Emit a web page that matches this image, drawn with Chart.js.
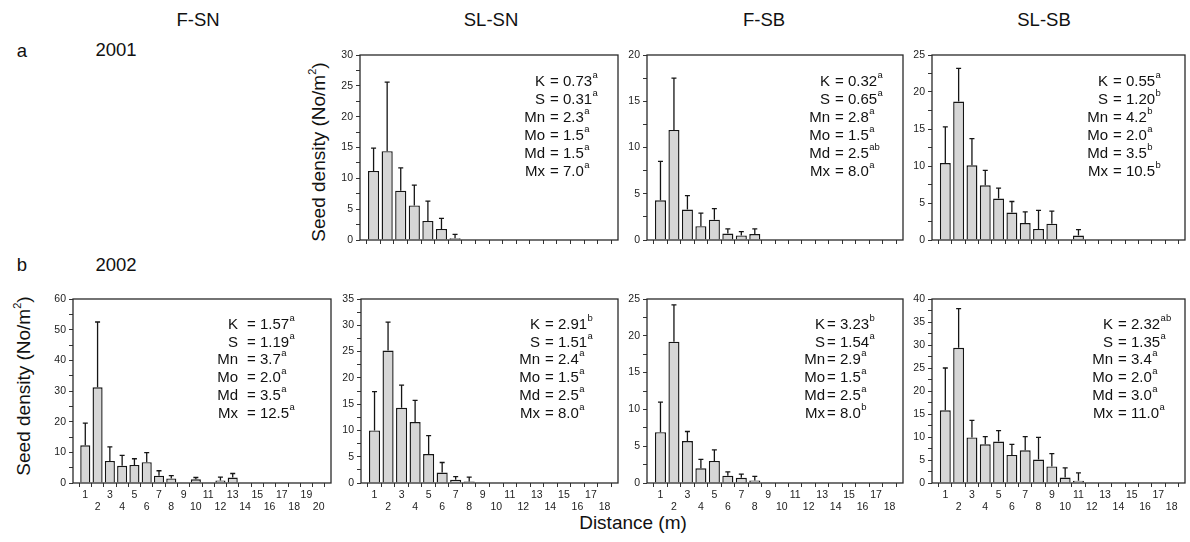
<!DOCTYPE html>
<html>
<head>
<meta charset="utf-8">
<script src="https://cdn.jsdelivr.net/npm/chart.js@4.4.1/dist/chart.umd.min.js"></script>
<style>
    body { margin: 0; background: #fff; width: 1190px; height: 542px; position: relative; overflow: hidden;
           font-family: "Liberation Sans", Arial, sans-serif; color: #111; }
    canvas { position: absolute; }
    .txt { position: absolute; white-space: nowrap; line-height: 1; transform: translate(-50%, -50%); }
    .head { font-size: 18.5px; }
    .ytitle { position: absolute; white-space: nowrap; line-height: 1; font-size: 19px;
              transform: translate(-50%, -50%) rotate(-90deg); }
    .ytitle sup { font-size: 11px; vertical-align: 9px; line-height: 0; }
</style>
</head>
<body>
<div class="txt head" style="left:198px; top:20px;">F-SN</div>
<div class="txt head" style="left:491px; top:20px;">SL-SN</div>
<div class="txt head" style="left:764px; top:20px;">F-SB</div>
<div class="txt head" style="left:1044px; top:20px;">SL-SB</div>
<div class="txt head" style="left:22px; top:51px;">a</div>
<div class="txt head" style="left:116px; top:50px;">2001</div>
<div class="txt head" style="left:22px; top:265px;">b</div>
<div class="txt head" style="left:116px; top:265px;">2002</div>
<div class="ytitle" style="left:318px; top:152px;">Seed density (No/m<sup>2</sup>)</div>
<div class="ytitle" style="left:23px; top:386px;">Seed density (No/m<sup>2</sup>)</div>
<div class="txt" style="left:633px; top:522px; font-size:19px;">Distance (m)</div>

<script>
// distance classes (m)
const dist18 = [1, 2, 3, 4, 5, 6, 7, 8, 9, 10, 11, 12, 13, 14, 15, 16, 17, 18];
const dist20 = [1, 2, 3, 4, 5, 6, 7, 8, 9, 10, 11, 12, 13, 14, 15, 16, 17, 18, 19, 20];
const statNames = ["K", "S", "Mn", "Mo", "Md", "Mx"];

// 2001, SL-SN
const dens01SLSN = [11.2, 14.4, 8.0, 5.6, 3.1, 1.8, 0.3, 0, 0, 0, 0, 0, 0, 0, 0, 0, 0, 0];
const se01SLSN = [3.7, 11.2, 3.7, 3.3, 3.2, 1.7, 0.6, 0, 0, 0, 0, 0, 0, 0, 0, 0, 0, 0];
const stat01SLSN = ["0.73", "0.31", "2.3", "1.5", "1.5", "7.0"];
const sig01SLSN = ["a", "a", "a", "a", "a", "a"];

// 2001, F-SB
const dens01FSB = [4.3, 11.9, 3.3, 1.5, 2.2, 0.7, 0.5, 0.65, 0, 0, 0, 0, 0, 0, 0, 0, 0, 0];
const se01FSB = [4.2, 5.6, 1.5, 1.4, 1.2, 0.5, 0.4, 0.55, 0, 0, 0, 0, 0, 0, 0, 0, 0, 0];
const stat01FSB = ["0.32", "0.65", "2.8", "1.5", "2.5", "8.0"];
const sig01FSB = ["a", "a", "a", "a", "ab", "a"];

// 2001, SL-SB
const dens01SLSB = [10.4, 18.7, 10.1, 7.4, 5.6, 3.7, 2.3, 1.5, 2.2, 0, 0.6, 0, 0, 0, 0, 0, 0, 0];
const se01SLSB = [4.9, 4.5, 3.6, 2.0, 1.4, 1.5, 1.5, 2.5, 1.7, 0, 0.8, 0, 0, 0, 0, 0, 0, 0];
const stat01SLSB = ["0.55", "1.20", "4.2", "2.0", "3.5", "10.5"];
const sig01SLSB = ["a", "b", "b", "a", "b", "b"];

// 2002, F-SN
const dens02FSN = [12.3, 31.2, 7.2, 5.6, 5.9, 6.8, 2.4, 1.5, 0, 1.2, 0, 0.8, 1.8, 0, 0, 0, 0, 0, 0, 0];
const se02FSN = [7.2, 21.3, 4.6, 3.4, 2.0, 3.1, 1.6, 0.9, 0, 0.6, 0, 1.1, 1.3, 0, 0, 0, 0, 0, 0, 0];
const stat02FSN = ["1.57", "1.19", "3.7", "2.0", "3.5", "12.5"];
const sig02FSN = ["a", "a", "a", "a", "a", "a"];

// 2002, SL-SN
const dens02SLSN = [10.0, 25.2, 14.3, 11.6, 5.5, 2.0, 0.6, 0.3, 0, 0, 0, 0, 0, 0, 0, 0, 0, 0];
const se02SLSN = [7.4, 5.4, 4.3, 4.1, 3.5, 1.9, 0.6, 0.8, 0, 0, 0, 0, 0, 0, 0, 0, 0, 0];
const stat02SLSN = ["2.91", "1.51", "2.4", "1.5", "2.5", "8.0"];
const sig02SLSN = ["b", "a", "a", "a", "a", "a"];

// 2002, F-SB
const dens02FSB = [6.9, 19.2, 5.7, 2.0, 3.0, 1.0, 0.7, 0.35, 0, 0, 0, 0, 0, 0, 0, 0, 0, 0];
const se02FSB = [4.1, 5.0, 1.3, 1.2, 1.5, 0.5, 0.5, 0.55, 0, 0, 0, 0, 0, 0, 0, 0, 0, 0];
const stat02FSB = ["3.23", "1.54", "2.9", "1.5", "2.5", "8.0"];
const sig02FSB = ["b", "a", "a", "a", "a", "b"];

// 2002, SL-SB
const dens02SLSB = [15.8, 29.4, 9.9, 8.4, 9.0, 6.1, 7.1, 5.1, 3.6, 1.2, 0.5, 0, 0, 0, 0, 0, 0, 0];
const se02SLSB = [9.2, 8.5, 3.7, 1.7, 2.4, 2.3, 3.0, 4.8, 2.8, 2.1, 1.7, 0, 0, 0, 0, 0, 0, 0];
const stat02SLSB = ["2.32", "1.35", "3.4", "2.0", "3.0", "11.0"];
const sig02SLSB = ["ab", "a", "a", "a", "a", "a"];

// plot rectangles (px) and where the "=" column of the stats block sits
const panels = [
    { dist: dist18, dens: dens01SLSN, se: se01SLSN, stat: stat01SLSN, sig: sig01SLSN, yMax: 30, yStep: 5,
      left: 360, top: 55, right: 618, bottom: 240, xLabels: false, eqX: 190, lineY: 27, gap: 5 },
    { dist: dist18, dens: dens01FSB, se: se01FSB, stat: stat01FSB, sig: sig01FSB, yMax: 20, yStep: 5,
      left: 647, top: 55, right: 903, bottom: 240, xLabels: false, eqX: 188, lineY: 27, gap: 5 },
    { dist: dist18, dens: dens01SLSB, se: se01SLSB, stat: stat01SLSB, sig: sig01SLSB, yMax: 25, yStep: 5,
      left: 932, top: 55, right: 1185, bottom: 240, xLabels: false, eqX: 181, lineY: 27, gap: 5 },
    { dist: dist20, dens: dens02FSN, se: se02FSN, stat: stat02FSN, sig: sig02FSN, yMax: 60, yStep: 10,
      left: 73, top: 299, right: 331, bottom: 483, xLabels: true, eqX: 174, lineY: 25.5, gap: 9 },
    { dist: dist18, dens: dens02SLSN, se: se02SLSN, stat: stat02SLSN, sig: sig02SLSN, yMax: 35, yStep: 5,
      left: 361, top: 299, right: 618, bottom: 483, xLabels: true, eqX: 184, lineY: 25.5, gap: 5 },
    { dist: dist18, dens: dens02FSB, se: se02FSB, stat: stat02FSB, sig: sig02FSB, yMax: 25, yStep: 5,
      left: 647, top: 299, right: 903, bottom: 483, xLabels: true, eqX: 180, lineY: 25.5, gap: 2 },
    { dist: dist18, dens: dens02SLSB, se: se02SLSB, stat: stat02SLSB, sig: sig02SLSB, yMax: 40, yStep: 5,
      left: 932, top: 299, right: 1185, bottom: 483, xLabels: true, eqX: 186, lineY: 25.5, gap: 5 },
];

const FONT = '"Liberation Sans", Arial, sans-serif';
const Y_AXIS_W = 30;
const PAD_TOP = 8;
const PAD_RIGHT = 6;

// error bars (upper whisker only), box frame and the stats text
function makeDecor(p) {
    return {
        id: "panelDecor",
        afterDatasetsDraw(chart) {
            const { ctx, chartArea: a } = chart;
            const yScale = chart.scales.y;
            const meta = chart.getDatasetMeta(0);
            ctx.save();
            ctx.strokeStyle = "#151515";
            ctx.lineWidth = 1.3;
            meta.data.forEach((bar, i) => {
                if (!p.se[i]) return;
                const top = yScale.getPixelForValue(p.dens[i] + p.se[i]);
                ctx.beginPath();
                ctx.moveTo(bar.x, bar.y);
                ctx.lineTo(bar.x, top);
                ctx.moveTo(bar.x - 2.5, top);
                ctx.lineTo(bar.x + 2.5, top);
                ctx.stroke();
            });
            ctx.strokeStyle = "#2a2a2a";
            ctx.lineWidth = 1.3;
            ctx.strokeRect(a.left, a.top, a.right - a.left, a.bottom - a.top);

            // stats block
            ctx.fillStyle = "#111";
            ctx.textBaseline = "middle";
            const eq = a.left + p.eqX;
            statNames.forEach((name, i) => {
                const y = a.top + p.lineY + i * 17.9;
                ctx.font = "15px " + FONT;
                ctx.textAlign = "right";
                ctx.fillText(name, eq - p.gap, y);
                ctx.textAlign = "left";
                const main = "= " + p.stat[i];
                ctx.fillText(main, eq, y);
                const w = ctx.measureText(main).width;
                ctx.font = "9.5px " + FONT;
                ctx.fillText(p.sig[i], eq + w + 0.5, y - 6.5);
            });
            ctx.restore();
        },
    };
}

panels.forEach((p) => {
    const xAxisH = p.xLabels ? 40 : 12;
    const plotW = p.right - p.left;
    const plotH = p.bottom - p.top;
    const canvas = document.createElement("canvas");
    canvas.width = plotW + Y_AXIS_W + PAD_RIGHT;
    canvas.height = plotH + PAD_TOP + xAxisH;
    canvas.style.left = (p.left - Y_AXIS_W) + "px";
    canvas.style.top = (p.top - PAD_TOP) + "px";
    document.body.appendChild(canvas);

    const nMax = p.dist.length + 1;

    new Chart(canvas, {
        type: "bar",
        data: {
            datasets: [
                {
                    data: p.dist.map((d, i) => ({ x: d, y: p.dens[i] })),
                    backgroundColor: "#d6d6d6",
                    borderColor: "#151515",
                    borderWidth: 1.4,
                    barPercentage: 1,
                    categoryPercentage: 0.82,
                },
            ],
        },
        options: {
            responsive: false,
            animation: false,
            layout: { padding: { top: PAD_TOP, right: PAD_RIGHT, left: 0, bottom: 0 } },
            scales: {
                x: {
                    type: "linear",
                    offset: false,
                    min: 0,
                    max: nMax,
                    border: { display: false },
                    grid: { drawOnChartArea: false, tickLength: 4, color: "#333", lineWidth: 1 },
                    ticks: {
                        display: p.xLabels,
                        stepSize: 1,
                        autoSkip: false,
                        maxRotation: 0,
                        padding: 2,
                        color: "#222",
                        font: { family: FONT, size: 10.5, lineHeight: 1.15 },
                        callback: (v) => {
                            if (v < 1 || v >= nMax) return "";
                            return v % 2 === 1 ? [String(v)] : ["", String(v)];
                        },
                    },
                    afterFit: (scale) => {
                        scale.height = xAxisH;
                        scale.paddingLeft = 0;
                        scale.paddingRight = 0;
                    },
                },
                y: {
                    min: 0,
                    max: p.yMax,
                    border: { display: false },
                    grid: { drawOnChartArea: false, tickLength: 4, color: "#333", lineWidth: 1 },
                    ticks: {
                        stepSize: p.yStep / 2,
                        autoSkip: false,
                        padding: 3,
                        color: "#222",
                        font: { family: FONT, size: 10.5 },
                        callback: (v) => (v % p.yStep === 0 ? String(v) : ""),
                    },
                    afterFit: (scale) => {
                        scale.width = Y_AXIS_W;
                        scale.paddingTop = 0;
                        scale.paddingBottom = 0;
                    },
                },
            },
            plugins: {
                legend: { display: false },
                tooltip: { enabled: false },
            },
        },
        plugins: [makeDecor(p)],
    });
});
</script>
</body>
</html>
